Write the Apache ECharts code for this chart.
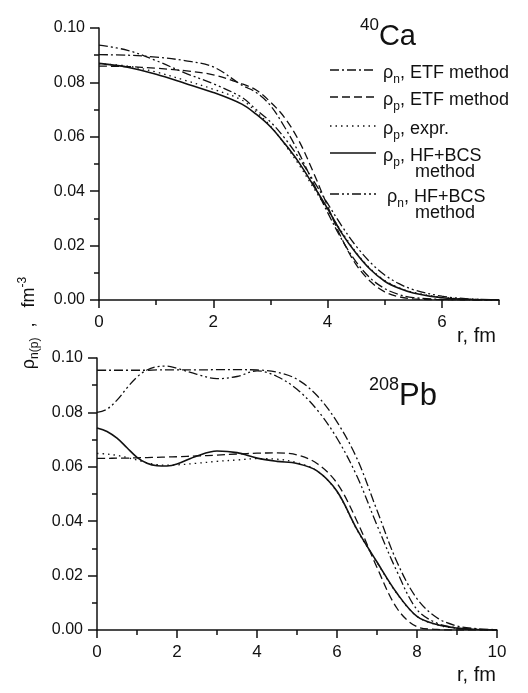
<!DOCTYPE html>
<html>
<head>
<meta charset="utf-8">
<script src="https://cdn.jsdelivr.net/npm/echarts@6/dist/echarts.min.js"></script>
<style>
html, body { margin: 0; padding: 0; background: #fff; }
#chart { width: 528px; height: 693px; }
</style>
</head>
<body>
<div id="chart"></div>
<script>
// 40Ca panel, r in fm
var caR = [0, 0.5, 1, 1.5, 2, 2.5, 2.75, 3, 3.25, 3.5, 3.75, 4, 4.25, 4.5, 4.75, 5, 5.25, 5.5, 6, 6.5, 7];
var caNEtf = [0.0902, 0.0900, 0.0893, 0.0880, 0.0857, 0.0790, 0.0763, 0.0715, 0.0635, 0.0540, 0.0430, 0.0322, 0.0222, 0.0140, 0.0080, 0.0042, 0.0020, 0.0009, 0.0002, 0, 0];
var caPEtf = [0.0860, 0.0858, 0.0852, 0.0843, 0.0828, 0.0795, 0.0772, 0.0728, 0.0670, 0.0585, 0.0470, 0.0345, 0.0225, 0.0130, 0.0068, 0.0030, 0.0012, 0.0004, 0.0001, 0, 0];
var caPExp = [0.0868, 0.0860, 0.0838, 0.0808, 0.0775, 0.0735, 0.0692, 0.0640, 0.0572, 0.0497, 0.0414, 0.0332, 0.0250, 0.0175, 0.0115, 0.0072, 0.0045, 0.0028, 0.0010, 0.0003, 0.0001];
var caPHf = [0.0870, 0.0856, 0.0830, 0.0797, 0.0763, 0.0720, 0.0683, 0.0637, 0.0575, 0.0505, 0.0422, 0.0336, 0.0245, 0.0172, 0.0112, 0.0069, 0.0043, 0.0026, 0.0008, 0.0002, 0.0001];
var caNHf = [0.0937, 0.0918, 0.0880, 0.0835, 0.0795, 0.0745, 0.0700, 0.0655, 0.0595, 0.0522, 0.0440, 0.0355, 0.0272, 0.0198, 0.0138, 0.0092, 0.0060, 0.0038, 0.0014, 0.0004, 0.0001];

// 208Pb panel
var pbR = [0, 0.25, 0.5, 0.75, 1, 1.25, 1.5, 1.75, 2, 2.5, 3, 3.5, 4, 4.5, 5, 5.5, 6, 6.5, 7, 7.5, 8, 8.5, 9, 9.5, 10];
var pbNEtf = [0.0955, 0.0955, 0.0955, 0.0955, 0.0955, 0.0955, 0.0956, 0.0956, 0.0956, 0.0956, 0.0957, 0.0957, 0.0956, 0.0948, 0.0922, 0.0862, 0.0765, 0.0630, 0.0440, 0.0250, 0.0115, 0.0045, 0.0015, 0.0005, 0.0001];
var pbPEtf = [0.0631, 0.0631, 0.0632, 0.0632, 0.0633, 0.0634, 0.0635, 0.0636, 0.0637, 0.0640, 0.0643, 0.0647, 0.0650, 0.0651, 0.0644, 0.0612, 0.0540, 0.0400, 0.0230, 0.0080, 0.0012, 0.0002, 0, 0, 0];
var pbPExp = [0.0649, 0.0647, 0.0642, 0.0634, 0.0625, 0.0615, 0.0608, 0.0606, 0.0607, 0.0613, 0.0620, 0.0625, 0.0630, 0.0628, 0.0615, 0.0585, 0.0508, 0.0368, 0.0248, 0.0133, 0.0050, 0.0019, 0.0006, 0.0002, 0];
var pbPHf = [0.0743, 0.0730, 0.0705, 0.0670, 0.0635, 0.0613, 0.0604, 0.0603, 0.0610, 0.0640, 0.0658, 0.0652, 0.0632, 0.0620, 0.0612, 0.0585, 0.0510, 0.0370, 0.0250, 0.0135, 0.0050, 0.0020, 0.0007, 0.0002, 0];
var pbNHf = [0.0800, 0.0812, 0.0845, 0.0890, 0.0930, 0.0956, 0.0968, 0.0970, 0.0962, 0.0940, 0.0924, 0.0932, 0.0953, 0.0932, 0.0885, 0.0810, 0.0705, 0.0565, 0.0385, 0.0215, 0.0075, 0.0025, 0.0008, 0.0002, 0];

var chart = echarts.init(document.getElementById('chart'), null, {renderer: 'canvas'});

var dashDot = [9, 3, 2, 3];
var dashed = [8, 4];
var dotted = [1.5, 4];
var dashDotDot = [9, 3, 2, 3, 2, 3];
var ink = '#111';

function pts(r, v) {
    return r.map(function (x, i) { return [x, v[i]]; });
}
function line(name, r, v, dash, xi, yi, w) {
    return {
        name: name, type: 'line', xAxisIndex: xi, yAxisIndex: yi,
        data: pts(r, v), symbol: 'none', smooth: 0.35,
        lineStyle: {color: ink, width: w || 1.3, type: dash},
        z: 3
    };
}

var tickFont = {fontFamily: 'Liberation Sans', color: '#111'};

function yAxis(gi) {
    return {
        type: 'value', gridIndex: gi, min: 0, max: 0.10, interval: 0.02,
        axisLine: {show: true, lineStyle: {color: ink, width: 1.5}},
        axisTick: {show: true, length: 9, lineStyle: {color: ink, width: 1.5}},
        minorTick: {show: true, splitNumber: 2, length: 5, lineStyle: {color: ink, width: 1.5}},
        splitLine: {show: false},
        axisLabel: Object.assign({fontSize: 16, margin: 14, formatter: function (v) { return v.toFixed(2); }}, tickFont)
    };
}

var sub = {fontSize: 12, fontFamily: 'Liberation Sans', fill: ink, lineHeight: 26, verticalAlign: 'bottom'};
var main = {fontSize: 18, fontFamily: 'Liberation Sans', fill: ink, lineHeight: 26, verticalAlign: 'middle'};

var legendItems = [
    {dash: dashDot, y: 70, text: '{a|ρ}{s|n}{a|, ETF method}'},
    {dash: dashed, y: 97, text: '{a|ρ}{s|p}{a|, ETF method}'},
    {dash: dotted, y: 126, text: '{a|ρ}{s|p}{a|, expr.}'},
    {dash: 'solid', y: 153, text: '{a|ρ}{s|p}{a|, HF+BCS}', extra: 'method'},
    {dash: dashDotDot, y: 194, text: '{a|ρ}{s|n}{a|, HF+BCS}', extra: 'method', dx: 4}
];

var graphics = [];
legendItems.forEach(function (it) {
    graphics.push({
        type: 'line', shape: {x1: 330, y1: it.y, x2: 376, y2: it.y},
        style: {stroke: ink, lineWidth: 1.3, lineDash: it.dash === 'solid' ? null : it.dash}
    });
    graphics.push({
        type: 'text', x: 383 + (it.dx || 0), y: it.y + 3,
        style: {text: it.text, rich: {a: main, s: sub}, verticalAlign: 'middle', fill: ink}
    });
    if (it.extra) {
        graphics.push({
            type: 'text', x: 415, y: it.y + 19,
            style: {text: it.extra, font: '18px "Liberation Sans"', fill: ink, verticalAlign: 'middle'}
        });
    }
});

// nucleus labels
graphics.push({
    type: 'text', x: 360, y: 34,
    style: {text: '{u|40}{b|Ca}', verticalAlign: 'middle', rich: {
        u: {fontSize: 17, fontFamily: 'Liberation Sans', fill: ink, verticalAlign: 'top', lineHeight: 34},
        b: {fontSize: 29, fontFamily: 'Liberation Sans', fill: ink, verticalAlign: 'bottom', lineHeight: 34}
    }}
});
graphics.push({
    type: 'text', x: 369, y: 394,
    style: {text: '{u|208}{b|Pb}', verticalAlign: 'middle', rich: {
        u: {fontSize: 18, fontFamily: 'Liberation Sans', fill: ink, verticalAlign: 'top', lineHeight: 36},
        b: {fontSize: 31, fontFamily: 'Liberation Sans', fill: ink, verticalAlign: 'bottom', lineHeight: 36}
    }}
});
// axis names
graphics.push({
    type: 'text', x: 457, y: 336,
    style: {text: 'r, fm', font: '20px "Liberation Sans"', fill: ink, verticalAlign: 'middle'}
});
graphics.push({
    type: 'text', x: 457, y: 675,
    style: {text: 'r, fm', font: '20px "Liberation Sans"', fill: ink, verticalAlign: 'middle'}
});
graphics.push({
    type: 'text', x: 29, y: 323, rotation: Math.PI / 2,
    style: {text: '{a|ρ}{s|n(p)}{a|  ,   fm}{u|-3}', align: 'center', verticalAlign: 'middle', rich: {
        a: {fontSize: 18, fontFamily: 'Liberation Sans', fill: ink, lineHeight: 24, verticalAlign: 'middle'},
        s: {fontSize: 12, fontFamily: 'Liberation Sans', fill: ink, lineHeight: 24, verticalAlign: 'bottom'},
        u: {fontSize: 12, fontFamily: 'Liberation Sans', fill: ink, lineHeight: 24, verticalAlign: 'top'}
    }}
});

var option = {
    animation: false,
    backgroundColor: '#fff',
    grid: [
        {left: 99, top: 28, width: 400, height: 272},
        {left: 97, top: 358, width: 400, height: 272}
    ],
    xAxis: [
        {
            type: 'value', gridIndex: 0, position: 'bottom', min: 0, max: 7, interval: 1,
            axisLine: {show: true, onZero: false, lineStyle: {color: ink, width: 1.5}},
            axisTick: {show: true, length: 8, customValues: [0, 2, 4, 6], lineStyle: {color: ink, width: 1.5}},
            splitLine: {show: false},
            axisLabel: Object.assign({fontSize: 17, margin: 14, customValues: [0, 2, 4, 6]}, tickFont)
        },
        {
            // minor ticks at odd r for the 0..7 axis
            type: 'value', gridIndex: 0, position: 'bottom', offset: 0, min: 0, max: 7, interval: 1,
            axisLine: {show: false, onZero: false},
            axisTick: {show: true, length: 5, customValues: [1, 3, 5, 7], lineStyle: {color: ink, width: 1.5}},
            splitLine: {show: false},
            axisLabel: {show: false}
        },
        {
            type: 'value', gridIndex: 1, position: 'bottom', min: 0, max: 10, interval: 2,
            axisLine: {show: true, onZero: false, lineStyle: {color: ink, width: 1.5}},
            axisTick: {show: true, length: 8, lineStyle: {color: ink, width: 1.5}},
            minorTick: {show: true, splitNumber: 2, length: 5, lineStyle: {color: ink, width: 1.5}},
            splitLine: {show: false},
            axisLabel: Object.assign({fontSize: 17, margin: 14}, tickFont)
        }
    ],
    yAxis: [yAxis(0), yAxis(1)],
    series: [
        line('ρn, ETF method', caR, caNEtf, dashDot, 0, 0),
        line('ρp, ETF method', caR, caPEtf, dashed, 0, 0),
        line('ρp, expr.', caR, caPExp, dotted, 0, 0),
        line('ρp, HF+BCS method', caR, caPHf, 'solid', 0, 0, 1.6),
        line('ρn, HF+BCS method', caR, caNHf, dashDotDot, 0, 0),
        line('ρn, ETF method ', pbR, pbNEtf, dashDot, 2, 1),
        line('ρp, ETF method ', pbR, pbPEtf, dashed, 2, 1),
        line('ρp, expr. ', pbR, pbPExp, dotted, 2, 1),
        line('ρp, HF+BCS method ', pbR, pbPHf, 'solid', 2, 1, 1.6),
        line('ρn, HF+BCS method ', pbR, pbNHf, dashDotDot, 2, 1)
    ],
    graphic: graphics
};
chart.setOption(option);
</script>
</body>
</html>
